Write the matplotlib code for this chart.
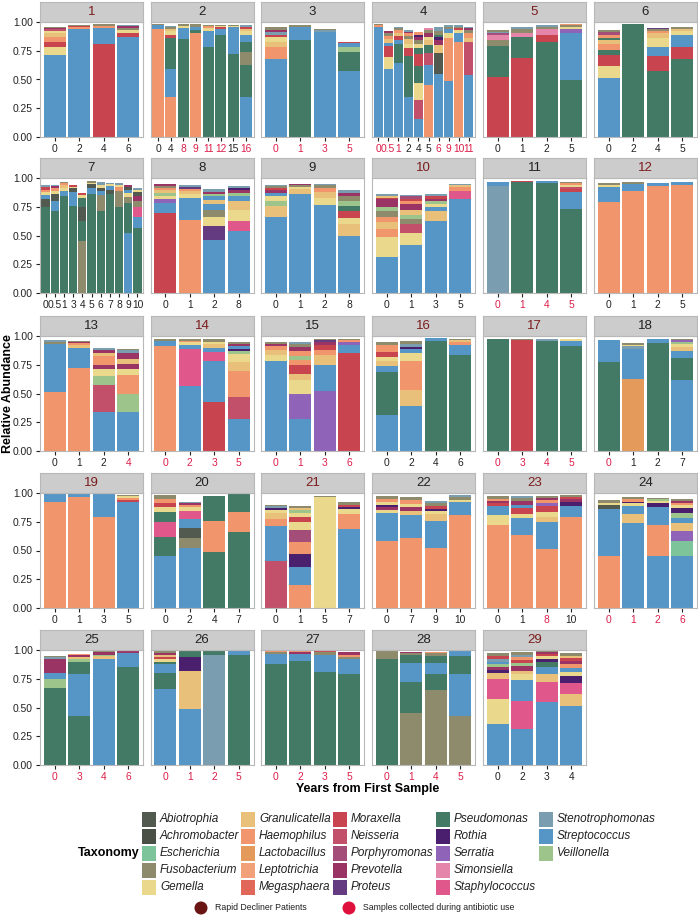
import matplotlib
matplotlib.use('Agg')
import matplotlib.pyplot as plt
from matplotlib.patches import Rectangle, Ellipse

plt.rcParams['font.family'] = ['Liberation Sans', 'DejaVu Sans']

# genus codes, names and colours (legend order)
codes = ['Ab', 'Ac', 'Es', 'Fu', 'Ge', 'Gr', 'Ha', 'La', 'Le', 'Me', 'Mo', 'Ne',
         'Po', 'Pr', 'Pt', 'Ps', 'Ro', 'Se', 'Si', 'Sa', 'Sm', 'St', 'Ve']
genera = ['Abiotrophia', 'Achromobacter', 'Escherichia', 'Fusobacterium', 'Gemella',
          'Granulicatella', 'Haemophilus', 'Lactobacillus', 'Leptotrichia', 'Megasphaera',
          'Moraxella', 'Neisseria', 'Porphyromonas', 'Prevotella', 'Proteus',
          'Pseudomonas', 'Rothia', 'Serratia', 'Simonsiella', 'Staphylococcus',
          'Stenotrophomonas', 'Streptococcus', 'Veillonella']
genus_colors = ['#525a4f', '#4a5046', '#7dc49a', '#8e8b6c', '#ead88c',
                '#e8c07a', '#f0956c', '#e39a5a', '#f2a07a', '#e0675a',
                '#c84550', '#c2506a', '#a44d78', '#9a3465', '#643b80',
                '#427a65', '#4a1f6e', '#8f63b8', '#e585aa', '#e0588b',
                '#7a9db0', '#5596c6', '#9dc48a']
color_of = dict(zip(codes, genus_colors))

# x tick labels (years from first sample) per patient
years = [
    ['0', '2', '4', '6'],
    ['0', '4', '8', '9', '11', '12', '15', '16'],
    ['0', '1', '3', '5'],
    ['0', '0.5', '1', '2', '4', '5', '6', '9', '10', '11'],
    ['0', '1', '2', '5'],
    ['0', '2', '4', '5'],
    ['0', '0.5', '1', '3', '4', '5', '6', '7', '8', '9', '10'],
    ['0', '1', '2', '8'],
    ['0', '1', '2', '8'],
    ['0', '1', '3', '5'],
    ['0', '1', '4', '5'],
    ['0', '1', '2', '5'],
    ['0', '1', '2', '4'],
    ['0', '2', '3', '5'],
    ['0', '1', '3', '6'],
    ['0', '2', '4', '6'],
    ['0', '3', '4', '5'],
    ['0', '1', '2', '7'],
    ['0', '1', '3', '5'],
    ['0', '2', '4', '7'],
    ['0', '1', '5', '7'],
    ['0', '7', '9', '10'],
    ['0', '1', '8', '10'],
    ['0', '1', '2', '6'],
    ['0', '3', '4', '6'],
    ['0', '1', '2', '5'],
    ['0', '2', '3', '5'],
    ['0', '1', '4', '5'],
    ['0', '2', '3', '4'],
]
# 1 = sample collected during antibiotic use
antibiotic = [
    '0000', '00111101', '1111', '1110001111', '0000', '0000', '00000000000',
    '0000', '0000', '0000', '1111', '0000', '0001', '1111', '1111', '0000',
    '1111', '1000', '0000', '0000', '0000', '0000', '0010', '1111', '1111',
    '1111', '1111', '1111', '0000',
]
rapid_decliners = [1, 5, 10, 12, 14, 16, 17, 19, 21, 23, 29]

# stacked bars: (genus, cumulative top) from bottom up
p01 = [
    [('St', .71), ('Ge', .78), ('Mo', .83), ('Ha', .87), ('Gr', .90), ('Ge', .92), ('Ne', .935), ('Pr', .95), ('Fu', .96)],
    [('St', .94), ('Ha', .955), ('Mo', .965), ('Fu', .975)],
    [('Mo', .81), ('St', .95), ('Ha', .965), ('Fu', .98)],
    [('St', .87), ('Mo', .905), ('Ge', .93), ('Fu', .95), ('Pr', .965), ('Sm', .97)],
]
p02 = [
    [('Ha', .94), ('St', .97), ('Fu', .98)],
    [('Ha', .35), ('St', .59), ('Ps', .86), ('Mo', .89), ('Ge', .92), ('Gr', .94), ('Fu', .955), ('Sm', .965)],
    [('Ps', .85), ('St', .95), ('Ge', .965), ('Fu', .98)],
    [('Ha', .90), ('Ps', .93), ('St', .96), ('Fu', .98)],
    [('Ps', .78), ('St', .925), ('Ge', .95), ('Ha', .965), ('Fu', .975)],
    [('Ps', .89), ('St', .94), ('Mo', .955), ('Ge', .965), ('Fu', .975)],
    [('Ps', .72), ('St', .955), ('Ge', .965), ('Fu', .975)],
    [('St', .35), ('Ps', .63), ('Fu', .74), ('Ps', .83), ('St', .89), ('Ge', .925), ('Gr', .94), ('Mo', .955), ('Sm', .97)],
]
p03 = [
    [('St', .68), ('Ha', .785), ('Gr', .83), ('Ge', .87), ('Mo', .89), ('Sm', .91), ('Pr', .93), ('Fu', .955)],
    [('Ps', .84), ('St', .96), ('Fu', .975)],
    [('St', .915), ('Sm', .93), ('Fu', .94)],
    [('St', .575), ('Ps', .74), ('Ve', .78), ('St', .815), ('Mo', .83)],
]
p04 = [
    [('St', .955), ('Ha', .97), ('Fu', .98)],
    [('St', .59), ('Ge', .695), ('Mo', .79), ('St', .82), ('Gr', .855), ('Ha', .88), ('Fu', .90), ('Pr', .92)],
    [('St', .645), ('Ps', .81), ('St', .84), ('Mo', .875), ('Gr', .905), ('Ha', .93), ('Fu', .945), ('Sm', .96)],
    [('St', .345), ('Ps', .70), ('Mo', .77), ('Ge', .81), ('Gr', .85), ('Fu', .88), ('Ha', .90), ('Pr', .915), ('Sm', .93)],
    [('St', .16), ('Ne', .325), ('Ge', .47), ('Ps', .62), ('Mo', .72), ('Ps', .775), ('Ge', .805), ('Fu', .84), ('Pr', .87), ('Ro', .89), ('Ha', .915)],
    [('Ha', .455), ('St', .63), ('Ne', .73), ('Ps', .80), ('Gr', .84), ('Ge', .87), ('Pr', .90), ('Fu', .93), ('Si', .95)],
    [('St', .545), ('Ab', .73), ('Gr', .80), ('Pr', .84), ('Ro', .87), ('Ps', .89), ('Fu', .925), ('Sm', .955)],
    [('St', .49), ('Ha', .86), ('Ge', .90), ('St', .94), ('Fu', .96), ('Sm', .97)],
    [('Ha', .83), ('St', .905), ('Ge', .93), ('Mo', .945), ('Fu', .96), ('Sm', .97)],
    [('St', .54), ('Ne', .825), ('Gr', .865), ('Ha', .905), ('Fu', .93), ('Pr', .945), ('Sm', .955)],
]
p05 = [
    [('Mo', .52), ('Ps', .79), ('Fu', .84), ('Si', .885), ('Po', .90), ('Sm', .915), ('Fu', .93)],
    [('Mo', .69), ('Ps', .87), ('Si', .905), ('Fu', .94), ('Sm', .955)],
    [('Ps', .83), ('Mo', .885), ('Si', .935), ('Fu', .96), ('Sm', .975)],
    [('Ps', .50), ('St', .905), ('Se', .935), ('Ge', .96), ('Fu', .975), ('Ha', .98)],
]
p06 = [
    [('St', .51), ('Ge', .615), ('Mo', .71), ('Ps', .76), ('Ha', .81), ('Gr', .84), ('Ps', .865), ('Ha', .89), ('Po', .91), ('Fu', .93)],
    [('Ps', .98)],
    [('Ps', .575), ('Mo', .70), ('St', .785), ('Ge', .86), ('Gr', .90), ('Ha', .925), ('Fu', .94), ('Pt', .95)],
    [('Ps', .68), ('Mo', .785), ('St', .89), ('Ge', .92), ('Gr', .94), ('Fu', .955), ('Mo', .96)],
]
p07 = [
    [('Ps', .75), ('Ab', .815), ('St', .855), ('Ge', .88), ('Ha', .90), ('Mo', .92), ('Sm', .935)],
    [('Ps', .715), ('St', .80), ('Ab', .86), ('Ge', .89), ('Ha', .91), ('Pr', .93), ('Sm', .94)],
    [('Ps', .84), ('St', .885), ('Ge', .915), ('Gr', .94), ('Ha', .955), ('Fu', .965)],
    [('Ps', .755), ('St', .88), ('Ab', .91), ('Ge', .925), ('Mo', .94)],
    [('Fu', .45), ('Ps', .63), ('Ab', .75), ('Ps', .83), ('Ge', .85), ('Mo', .87)],
    [('Ps', .86), ('St', .915), ('Ab', .945), ('Ge', .96), ('Fu', .975)],
    [('Ps', .71), ('Fu', .85), ('St', .885), ('Ab', .915), ('Ge', .94), ('Sm', .965)],
    [('Ps', .86), ('Ab', .90), ('St', .93), ('Ge', .945), ('Sm', .96)],
    [('Ps', .75), ('Fu', .885), ('Ha', .92), ('Ge', .94), ('Sm', .955)],
    [('St', .52), ('Ps', .78), ('Fu', .835), ('Ge', .87), ('St', .90), ('Ab', .92), ('Pr', .94)],
    [('Ps', .565), ('St', .665), ('Sa', .745), ('Fu', .80), ('Pr', .845), ('Ab', .875), ('Ge', .895), ('Sm', .91)],
]
p08 = [
    [('Mo', .70), ('St', .785), ('Se', .815), ('Ge', .84), ('Ve', .87), ('Gr', .895), ('Ha', .91), ('Fu', .93), ('Pr', .95)],
    [('Ha', .635), ('St', .83), ('Ge', .86), ('Gr', .89), ('Ha', .905), ('Pt', .92), ('Sm', .935)],
    [('St', .46), ('Pt', .58), ('Ge', .66), ('Fu', .72), ('St', .77), ('Gr', .805), ('St', .84), ('Ve', .86), ('Pr', .88), ('Sm', .90)],
    [('St', .535), ('Sa', .63), ('Ge', .72), ('Gr', .80), ('St', .84), ('Ve', .87), ('Pr', .90), ('Ro', .915), ('Sm', .93)],
]
p09 = [
    [('St', .665), ('Gr', .755), ('Ve', .80), ('Ge', .84), ('St', .87), ('Pr', .90), ('Mo', .915), ('Fu', .93), ('Sm', .94)],
    [('St', .865), ('Gr', .905), ('Ge', .925), ('Fu', .94), ('Pr', .95)],
    [('St', .765), ('Ge', .83), ('Gr', .88), ('Ha', .91), ('Fu', .935), ('Sm', .95)],
    [('St', .495), ('Gr', .60), ('Ge', .65), ('Mo', .71), ('Ps', .76), ('Ve', .80), ('Fu', .84), ('Pr', .87), ('Sm', .90)],
]
p10 = [
    [('St', .315), ('Ge', .49), ('Ha', .56), ('Gr', .615), ('Ha', .66), ('Fu', .71), ('Ve', .75), ('Pr', .815), ('Mo', .83), ('Gr', .845), ('Sm', .865)],
    [('St', .415), ('Ge', .52), ('Ne', .60), ('Fu', .645), ('Ve', .68), ('Gr', .72), ('Pr', .775), ('Ha', .80), ('Mo', .82), ('Po', .84), ('Sm', .855)],
    [('St', .63), ('Gr', .71), ('St', .75), ('Ge', .775), ('Ve', .80), ('Pr', .82), ('Mo', .84), ('Sm', .865)],
    [('St', .82), ('Sa', .885), ('Ha', .92), ('Gr', .935), ('Sm', .95)],
]
p11 = [
    [('Sm', .93), ('St', .965)],
    [('Ps', .965), ('Mo', .97)],
    [('Ps', .955), ('St', .97)],
    [('Ps', .73), ('St', .88), ('Mo', .905), ('Ne', .925), ('Ge', .94), ('Ha', .955), ('Fu', .965)],
]
p12 = [
    [('Ha', .795), ('St', .92), ('Ge', .94), ('Fu', .96)],
    [('Ha', .885), ('St', .95), ('Fu', .965)],
    [('Ha', .93), ('St', .96)],
    [('Ha', .935), ('St', .965)],
]
p13 = [
    [('Ha', .515), ('St', .93), ('Fu', .95), ('Sm', .965)],
    [('Ha', .72), ('St', .90), ('Gr', .92), ('Ha', .935), ('Pr', .95), ('Fu', .96)],
    [('St', .34), ('Ne', .57), ('Ve', .65), ('Ge', .71), ('Pr', .75), ('Ha', .83), ('Gr', .85), ('Pr', .875), ('Sm', .90)],
    [('St', .34), ('Ve', .50), ('Ha', .66), ('Ge', .71), ('Pr', .76), ('Gr', .80), ('Pr', .85), ('Sm', .875), ('Fu', .89)],
]
p14 = [
    [('Ha', .915), ('St', .955), ('Fu', .975)],
    [('St', .565), ('Sa', .885), ('St', .92), ('Ge', .945), ('Ha', .96), ('Fu', .975)],
    [('Mo', .43), ('St', .785), ('Sa', .86), ('St', .90), ('Gr', .93), ('Ge', .95), ('Fu', .97)],
    [('St', .28), ('Ne', .47), ('Ha', .70), ('Gr', .775), ('Ge', .84), ('Ve', .87), ('Ro', .89), ('St', .91), ('Pr', .93), ('Fu', .95)],
]
p15 = [
    [('St', .78), ('Ge', .835), ('Gr', .875), ('Ha', .91), ('Pr', .93), ('Fu', .945)],
    [('St', .275), ('Se', .50), ('Ge', .615), ('Gr', .67), ('Mo', .745), ('Ha', .795), ('Ve', .83), ('Ha', .87), ('Pr', .905), ('Fu', .93), ('Sm', .945)],
    [('Se', .525), ('St', .75), ('Gr', .835), ('Ha', .875), ('Mo', .925), ('Pr', .95), ('Pt', .965), ('Fu', .975)],
    [('Mo', .85), ('St', .92), ('Se', .945), ('Ha', .965), ('Fu', .975)],
]
p16 = [
    [('St', .31), ('Ps', .69), ('St', .735), ('Gr', .78), ('Ge', .82), ('Mo', .865), ('Ha', .92), ('Fu', .945)],
    [('St', .395), ('Gr', .53), ('Ha', .785), ('Ge', .855), ('St', .885), ('Ro', .905), ('Sm', .93), ('Fu', .955)],
    [('Ps', .955), ('St', .985)],
    [('Ps', .835), ('St', .92), ('Ha', .95), ('Gr', .965), ('Fu', .97)],
]
p17 = [
    [('Ps', .97), ('Fu', .975)],
    [('Mo', .965), ('Fu', .975)],
    [('Ps', .96), ('Sm', .97)],
    [('Ps', .91), ('St', .955), ('Ge', .97)],
]
p18 = [
    [('Ps', .775), ('St', .965)],
    [('La', .63), ('St', .885), ('Sm', .91), ('Ge', .925), ('Fu', .94)],
    [('Ps', .94), ('St', .97)],
    [('St', .615), ('Ps', .805), ('St', .87), ('Gr', .905), ('Ge', .93), ('Ve', .95), ('Se', .965), ('Fu', .975)],
]
p19 = [
    [('Ha', .92), ('St', 1.0)],
    [('Ha', .965), ('St', 1.0)],
    [('Ha', .795), ('St', 1.0)],
    [('St', .925), ('Mo', .94), ('Ha', .96), ('Ge', .975), ('Fu', .985)],
]
p20 = [
    [('St', .45), ('Ps', .615), ('Sa', .745), ('Ps', .835), ('Ge', .88), ('Mo', .915), ('Ha', .95), ('Fu', .98)],
    [('St', .525), ('Fu', .61), ('Ab', .695), ('St', .775), ('Sa', .845), ('Ge', .875), ('Ha', .895), ('Pr', .91), ('Sm', .925)],
    [('Ps', .485), ('Ha', .76), ('Ps', .975)],
    [('Ps', .66), ('Ha', .835), ('Ps', .99)],
]
p21 = [
    [('Ne', .405), ('St', .71), ('Ha', .77), ('Gr', .825), ('Ge', .85), ('Ro', .87), ('Sm', .89), ('Fu', .90)],
    [('Ha', .20), ('St', .36), ('Ro', .47), ('Ha', .575), ('Po', .68), ('Ge', .745), ('Mo', .795), ('Ge', .83), ('Ve', .85), ('Gr', .87), ('Fu', .89)],
    [('Ge', .965), ('Fu', .975)],
    [('St', .69), ('Ha', .82), ('Ge', .86), ('Ro', .88), ('Mo', .90), ('Fu', .92)],
]
p22 = [
    [('Ha', .58), ('St', .825), ('Ge', .85), ('Pr', .88), ('Ro', .895), ('Ge', .925), ('Ha', .945), ('Fu', .97)],
    [('Ha', .61), ('St', .81), ('Gr', .84), ('Pr', .875), ('Ge', .905), ('Ha', .935), ('Fu', .965)],
    [('Ha', .52), ('St', .755), ('Gr', .82), ('Ge', .845), ('Ro', .865), ('Mo', .89), ('Fu', .915), ('Sm', .93)],
    [('Ha', .81), ('St', .92), ('Ge', .94), ('Fu', .965), ('Sm', .98)],
]
p23 = [
    [('Ha', .72), ('Ge', .81), ('St', .885), ('Mo', .91), ('Pr', .93), ('Ha', .95), ('Fu', .97)],
    [('Ha', .635), ('St', .785), ('Ge', .82), ('Mo', .87), ('St', .90), ('Pr', .93), ('Fu', .955), ('Sm', .975)],
    [('Ha', .515), ('St', .745), ('Gr', .79), ('Ge', .835), ('Mo', .885), ('Se', .91), ('Ha', .935), ('Pr', .955), ('Fu', .975)],
    [('Ha', .795), ('St', .89), ('Ro', .92), ('Pr', .95), ('Mo', .965), ('Fu', .985)],
]
p24 = [
    [('Ha', .45), ('St', .865), ('Ab', .90), ('Ge', .915), ('Fu', .94)],
    [('St', .74), ('Gr', .815), ('St', .885), ('Ge', .91), ('Ro', .925), ('Ha', .945), ('Fu', .965)],
    [('St', .45), ('Ha', .725), ('St', .88), ('Ro', .91), ('Ge', .93), ('Ve', .945), ('Fu', .96)],
    [('St', .45), ('Es', .585), ('Se', .67), ('Gr', .74), ('St', .785), ('Ve', .825), ('Ro', .87), ('Ge', .895), ('Ha', .915), ('Pr', .93), ('Fu', .95)],
]
p25 = [
    [('Ps', .67), ('Ve', .745), ('St', .80), ('Pr', .92), ('Sm', .94), ('Fu', .95)],
    [('Ps', .43), ('St', .795), ('Ps', .90), ('Ve', .92), ('Gr', .935), ('Pr', .955), ('Ha', .965)],
    [('St', .92), ('Gr', .945), ('Ve', .96), ('Pr', .98), ('Fu', .995)],
    [('Ps', .855), ('St', .975), ('Pr', .99), ('Fu', .995)],
]
p26 = [
    [('St', .665), ('Ps', .80), ('St', .875), ('Ps', .90), ('Ge', .92), ('Mo', .94), ('Gr', .955), ('Pr', .975), ('Fu', .995)],
    [('St', .49), ('Gr', .82), ('Ro', .94), ('Ps', .995)],
    [('Sm', .96), ('Ps', .995)],
    [('Ps', .955), ('St', 1.0)],
]
p27 = [
    [('Ps', .875), ('St', .965), ('Fu', .985), ('Ha', .995)],
    [('Ps', .905), ('St', .965), ('Pr', .985), ('Ha', .995)],
    [('Ps', .81), ('St', .955), ('Fu', .98), ('Mo', .995)],
    [('Ps', .79), ('St', .92), ('Fu', .94), ('Ha', .96), ('Pr', .98)],
]
p28 = [
    [('Ps', .925), ('Fu', .995)],
    [('Fu', .45), ('Ps', .72), ('St', .89), ('Ps', .955), ('Fu', .975), ('Pr', .98)],
    [('Fu', .655), ('Ps', .795), ('St', .89), ('Ps', .95), ('Fu', .975), ('Ha', .985)],
    [('Fu', .425), ('St', .79), ('Ps', .95), ('St', .995)],
]
p29 = [
    [('St', .36), ('Ge', .57), ('Sa', .75), ('Gr', .80), ('Ro', .825), ('Pr', .85), ('Ve', .875), ('St', .90), ('Sm', .925), ('Mo', .95), ('Fu', .975)],
    [('St', .31), ('Sa', .56), ('St', .74), ('Ge', .79), ('Gr', .82), ('Pr', .86), ('Ve', .89), ('Mo', .915), ('Ha', .94), ('Sm', .96), ('Fu', .98)],
    [('St', .55), ('Sa', .72), ('Gr', .795), ('St', .855), ('Ps', .895), ('Ro', .92), ('Ge', .945), ('Mo', .965), ('Pr', .98), ('Fu', .995)],
    [('St', .51), ('Gr', .62), ('Sa', .71), ('Ro', .77), ('Ge', .81), ('St', .84), ('Ha', .875), ('Pr', .905), ('Mo', .93), ('Gr', .95), ('Fu', .975)],
]
panels = [p01, p02, p03, p04, p05, p06, p07, p08, p09, p10, p11, p12, p13, p14, p15,
          p16, p17, p18, p19, p20, p21, p22, p23, p24, p25, p26, p27, p28, p29]

# layout in pixels
W, H = 698, 917
col_left = [40, 150.5, 261, 372, 483, 594]
row_top = [22, 178, 336, 493, 650]
panel_w, panel_h, strip_h = 103, 115, 20
ABX_RED = '#dc1e4a'
DECLINER = '#7b1c1c'


def px_axes(fig, x, y, w, h):
    return fig.add_axes([x / W, 1 - (y + h) / H, w / W, h / H])


fig = plt.figure(figsize=(W / 100, H / 100), dpi=100)

for i, bars in enumerate(panels):
    r, c = divmod(i, 6)
    x0, y0 = col_left[c], row_top[r]
    ax = px_axes(fig, x0, y0, panel_w, panel_h)
    n = len(bars)
    for j, bar in enumerate(bars):
        bottom = 0.0
        for code, top in bar:
            ax.bar(j + 1, top - bottom, bottom=bottom, width=0.9,
                   color=color_of[code], edgecolor='none', linewidth=0)
            bottom = top
    ax.set_xlim(0.4, n + 0.6)
    ax.set_ylim(0, 1.0)
    ax.set_xticks(range(1, n + 1))
    ax.set_xticklabels(years[i])
    for lab, flag in zip(ax.get_xticklabels(), antibiotic[i]):
        lab.set_color(ABX_RED if flag == '1' else '#222222')
    ax.tick_params(axis='x', length=3, width=0.8, pad=2, labelsize=7.4, color='#222222')
    if c == 0:
        ax.set_yticks([0, 0.25, 0.5, 0.75, 1.0])
        ax.set_yticklabels(['0.00', '0.25', '0.50', '0.75', '1.00'])
        ax.tick_params(axis='y', length=3, width=0.8, pad=2, labelsize=7.4,
                       color='#222222', labelcolor='#222222')
    else:
        ax.set_yticks([])
    for s in ax.spines.values():
        s.set_color('#b8b8b8')
        s.set_linewidth(0.8)

    # facet strip
    sax = px_axes(fig, x0, y0 - strip_h, panel_w, strip_h)
    sax.set_facecolor('#cccccc')
    sax.set_xticks([])
    sax.set_yticks([])
    for s in sax.spines.values():
        s.set_color('#b8b8b8')
        s.set_linewidth(0.8)
    pid = i + 1
    sax.text(0.5, 0.5, str(pid), ha='center', va='center', fontsize=9.5,
             color=DECLINER if pid in rapid_decliners else '#222222',
             transform=sax.transAxes)

# overlay for titles and legend, in pixel coordinates
ov = fig.add_axes([0, 0, 1, 1])
ov.set_xlim(0, W)
ov.set_ylim(H, 0)
ov.axis('off')

ov.text(8, (row_top[0] + row_top[4] + panel_h) / 2, 'Relative Abundance', rotation=90,
        ha='center', va='center', fontsize=9, fontweight='bold')
ov.text(368, 789, 'Years from First Sample', ha='center', va='center',
        fontsize=9, fontweight='bold')

# taxonomy legend, filled column by column
ov.text(78, 853, 'Taxonomy', ha='left', va='center', fontsize=9, fontweight='bold')
swatch_x = [142, 241, 333, 436, 539]
row_y = [819, 836, 853, 870, 887]
for k, (name, col) in enumerate(zip(genera, genus_colors)):
    cc, rr = divmod(k, 5)
    ov.add_patch(Rectangle((swatch_x[cc], row_y[rr] - 7.5), 14, 15, facecolor=col,
                           edgecolor='none'))
    ov.text(swatch_x[cc] + 18, row_y[rr], name, ha='left', va='center',
            fontsize=8.5, style='italic', color='#222222')

ov.add_patch(Ellipse((201, 908), 13, 13, facecolor='#6b1414', edgecolor='none'))
ov.text(215, 908, 'Rapid Decliner Patients', ha='left', va='center', fontsize=6.3,
        color='#222222')
ov.add_patch(Ellipse((349, 908), 13, 13, facecolor='#e0103c', edgecolor='none'))
ov.text(363, 908, 'Samples collected during antibiotic use', ha='left', va='center',
        fontsize=6.3, color='#222222')

fig.savefig('out.png', dpi=100)
plt.close(fig)
